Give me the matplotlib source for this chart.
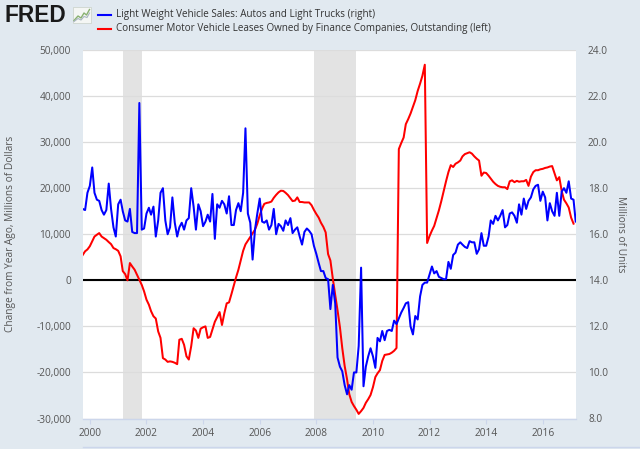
import numpy as np
import pandas as pd
import matplotlib
matplotlib.use("Agg")
import matplotlib.pyplot as plt
from matplotlib.lines import Line2D
from matplotlib.patches import Rectangle
from matplotlib.ticker import FuncFormatter, FixedLocator

# ---------------- data ----------------
start_month = "1999-10-01"

# Light Weight Vehicle Sales (millions of units, right axis), monthly from 1999-10
sales = [
    17.1, 17.05, 17.8, 18.1, 18.9, 17.8, 17.5, 17.45, 17.05, 16.85, 17.05, 18.2,
    17.1, 16.3, 15.9, 17.3, 17.5, 17.0, 16.6, 16.55, 17.1, 16.1, 16.05, 16.05,
    21.7, 16.2, 16.25, 16.9, 17.15, 16.85, 17.2, 15.9, 16.6, 17.8, 18.0, 16.6,
    16.0, 16.3, 17.6, 16.5, 15.9, 16.3, 16.5, 16.2, 16.6, 16.7, 18.0, 17.2,
    16.2, 17.3, 17.0, 16.35, 16.55, 16.85, 16.55, 17.75, 15.8, 17.3, 17.15, 17.45,
    17.3, 16.9, 17.65, 16.4, 16.4, 17.05, 17.35, 17.0, 17.8, 20.6, 16.9, 16.5,
    14.9, 16.2, 16.9, 17.55, 16.55, 16.5, 16.6, 16.2, 16.4, 17.1, 16.0, 16.45,
    16.35, 16.15, 16.6, 16.4, 16.7, 16.05, 16.2, 16.3, 15.9, 15.55, 16.1, 16.25,
    16.15, 16.0, 15.5, 15.15, 14.75, 14.4, 14.4, 14.1, 14.05, 12.75, 13.8, 13.0,
    10.65, 10.25, 10.05, 9.45, 9.05, 9.45, 9.25, 10.0, 10.0, 11.15, 14.55, 9.4,
    10.25, 10.7, 11.05, 10.7, 10.2, 11.5, 11.35, 11.8, 11.4, 11.8, 11.85, 11.8,
    12.25, 12.1, 12.35, 12.6, 12.8, 13.0, 13.05, 12.0, 11.65, 12.45, 12.3, 13.3,
    13.8, 13.9, 13.9, 14.25, 14.6, 14.3, 14.4, 14.15, 14.1, 14.05, 14.05, 14.8,
    14.5, 15.1, 15.2, 15.55, 15.65, 15.55, 15.45, 15.4, 15.7, 15.65, 15.65, 15.15,
    15.35, 16.05, 15.5, 15.5, 15.9, 16.6, 16.45, 16.8, 16.6, 16.8, 17.05, 16.3,
    16.4, 16.9, 16.95, 16.8, 16.5, 17.3, 16.85, 17.55, 17.1, 17.45, 17.6, 17.95,
    18.1, 18.15, 17.45, 17.85, 17.6, 16.6, 17.35, 17.0, 16.8, 17.8, 16.8, 17.85,
    18.0, 17.8, 18.3, 17.55, 17.5, 16.55,
]

# Consumer Motor Vehicle Leases, change from year ago (millions of dollars, left axis)
leases = [
    5500, 6300, 6700, 7400, 8500, 9500, 9900, 10250, 9500, 9150, 8800, 8300,
    7850, 7000, 6750, 6400, 5200, 2000, 1350, 0, 3750, 3000, 2300, 1200,
    100, -1000, -2400, -4200, -5300, -6700, -7800, -8300, -11100, -12500, -16900, -17200,
    -17700, -17600, -17700, -17900, -18200, -12900, -12700, -14000, -16500, -17200, -14300, -10400,
    -10900, -12500, -10500, -10200, -10000, -12500, -12300, -10700, -9000, -8000, -6900, -9700,
    -7200, -5000, -4800, -3000, -1100, 600, 2300, 4300, 6400, 7800, 8600, 9400,
    10200, 11000, 12300, 14100, 15600, 16600, 16800, 16900, 17100, 17900, 18550, 19100,
    19450, 19400, 19000, 18500, 17800, 17200, 17300, 18000, 17000, 17000, 16900, 16900,
    16900, 16300, 15300, 14400, 13600, 12500, 11600, 10400, 5700, 4300, 400, -3200,
    -6500, -10200, -14700, -18600, -21500, -24700, -26400, -27300, -28100, -29000, -28400, -27700,
    -26600, -25800, -24900, -23200, -21000, -20200, -19500, -17500, -16200, -16100, -16000, -15700,
    -15300, -14700, 28500, 29800, 31000, 33900, 35000, 36200, 37700, 39100, 41100, 42700,
    44400, 46800, 8100, 9600, 10800, 11800, 13500, 15200, 17200, 19300, 21500, 23500,
    25000, 24600, 25300, 25600, 26000, 26900, 27400, 27600, 27800, 27500, 26900, 26400,
    26000, 22700, 23400, 23300, 22700, 22100, 21400, 20900, 20500, 20300, 20200, 20200,
    19800, 21500, 21700, 21300, 21600, 21400, 21500, 21500, 21800, 20500, 22500, 23500,
    23900, 23900, 24100, 24200, 24400, 24500, 24700, 24800, 23200, 21700, 22400, 19400,
    17500, 16700, 15800, 13600, 12300,
]

recessions = [("2001-03-01", "2001-11-01"), ("2007-12-01", "2009-06-01")]
year_ticks = [2000, 2002, 2004, 2006, 2008, 2010, 2012, 2014, 2016]
left_ticks = [-30000, -20000, -10000, 0, 10000, 20000, 30000, 40000, 50000]
right_ticks = [8, 10, 12, 14, 16, 18, 20, 22, 24]

legend_labels = [
    "Light Weight Vehicle Sales: Autos and Light Trucks (right)",
    "Consumer Motor Vehicle Leases Owned by Finance Companies, Outstanding (left)",
]
left_label = "Change from Year Ago, Millions of Dollars"
right_label = "Millions of Units"

# ---------------- styling ----------------
BG = "#e1e9f0"
GRID = "#dcdcdc"
AXC = "#ccd6eb"
TXT = "#555555"
FONT = ["Open Sans", "DejaVu Sans"]

sales_dates = pd.date_range(start_month, periods=len(sales), freq="MS")
lease_dates = pd.date_range(start_month, periods=len(leases), freq="MS")

W, H = 640, 449
fig = plt.figure(figsize=(W / 100, H / 100), dpi=100, facecolor=BG)

def fx(x):
    return x / W

def fy(y):
    return 1 - y / H

L, R, T, B = 82.7, 575.7, 50.0, 418.5
ax = fig.add_axes([fx(L), fy(B), fx(R - L), (B - T) / H])
ax.set_facecolor("white")
ax2 = ax.twinx()

# recession shading
for s, e in recessions:
    ax.axvspan(pd.Timestamp(s), pd.Timestamp(e), color="#e3e3e3", lw=0, zorder=0)

ax.set_ylim(-30000, 50000)
ax2.set_ylim(8, 24)
ax.yaxis.set_major_locator(FixedLocator(left_ticks))
ax2.yaxis.set_major_locator(FixedLocator(right_ticks))
ax.grid(axis="y", color=GRID, lw=0.9, zorder=0.5)
ax.set_axisbelow(True)

# zero line
ax.axhline(0, color="black", lw=1.5, zorder=2)

# series
ax.plot(lease_dates, leases, color="#ff0000", lw=1.45, zorder=3, solid_joinstyle="round")
ax2.plot(sales_dates, sales, color="#0000ff", lw=1.45, zorder=3, solid_joinstyle="round")

ax.set_xlim(sales_dates[0], sales_dates[-1])
xt = [pd.Timestamp(f"{y}-01-01") for y in year_ticks]
ax.set_xticks(xt)
ax.set_xticklabels([str(y) for y in year_ticks])

ax.yaxis.set_major_formatter(FuncFormatter(lambda v, p: f"{int(v):,}"))
ax2.yaxis.set_major_formatter(FuncFormatter(lambda v, p: f"{v:.1f}"))

for a in (ax, ax2):
    for sp in a.spines.values():
        sp.set_visible(False)
ax.spines["bottom"].set_visible(True)
ax.spines["bottom"].set_color(AXC)
ax.spines["bottom"].set_linewidth(1.0)

ax.tick_params(axis="x", colors=AXC, length=3.6, width=0.8, pad=3.2,
               labelcolor=TXT, labelsize=7.3)
ax.tick_params(axis="y", length=0, pad=8.4, labelcolor=TXT, labelsize=7.3)
ax2.tick_params(axis="y", length=0, pad=8.9, labelcolor=TXT, labelsize=7.3)
for lab in ax.get_xticklabels() + ax.get_yticklabels() + ax2.get_yticklabels():
    lab.set_family(FONT)

ax.set_ylabel(left_label, family=FONT, fontsize=7.3, color=TXT)
ax.yaxis.set_label_coords((16.5 - L) / (R - L), 0.5)
ax2.set_ylabel(right_label, family=FONT, fontsize=7.3, color=TXT, rotation=270)
ax2.yaxis.set_label_coords((626 - L) / (R - L), 0.5)

# bottom border line (navigator edge)
fig.add_artist(Line2D([fx(L), 1.0], [fy(447), fy(447)], color=AXC, lw=1.0))

# FRED logo
fig.text(fx(5), fy(16), "FRED", family=["Liberation Sans", "DejaVu Sans"],
         fontweight="bold", fontsize=16.3, color="#1a1a1a", va="center", ha="left")
# small chart icon
fig.add_artist(Rectangle((fx(73), fy(22.5)), fx(17.5), (22.5 - 7) / H,
                         facecolor="#f4f6f4", edgecolor="#c8d0c8", lw=0.5))
fig.add_artist(Line2D([fx(v) for v in (74, 78, 81, 84, 86.5, 89.5)],
                      [fy(v) for v in (20.5, 16, 18, 13, 15, 9.5)],
                      color="#88b070", lw=1.0))
fig.add_artist(Line2D([fx(v) for v in (74, 78, 81, 84, 87, 89.5)],
                      [fy(v) for v in (21.5, 18.5, 20, 16.5, 17.5, 13)],
                      color="#a8b4c0", lw=0.8))

# legend
for yy, col, lab in [(14.5, "#0000ff", legend_labels[0]), (28.5, "#ff0000", legend_labels[1])]:
    fig.add_artist(Line2D([fx(98), fx(111)], [fy(yy), fy(yy)], color=col, lw=1.5))
    fig.text(fx(116), fy(yy), lab, family=FONT, fontsize=7.1, color="#333333",
             va="center", ha="left")

fig.savefig("out.png", dpi=100, facecolor=BG)
